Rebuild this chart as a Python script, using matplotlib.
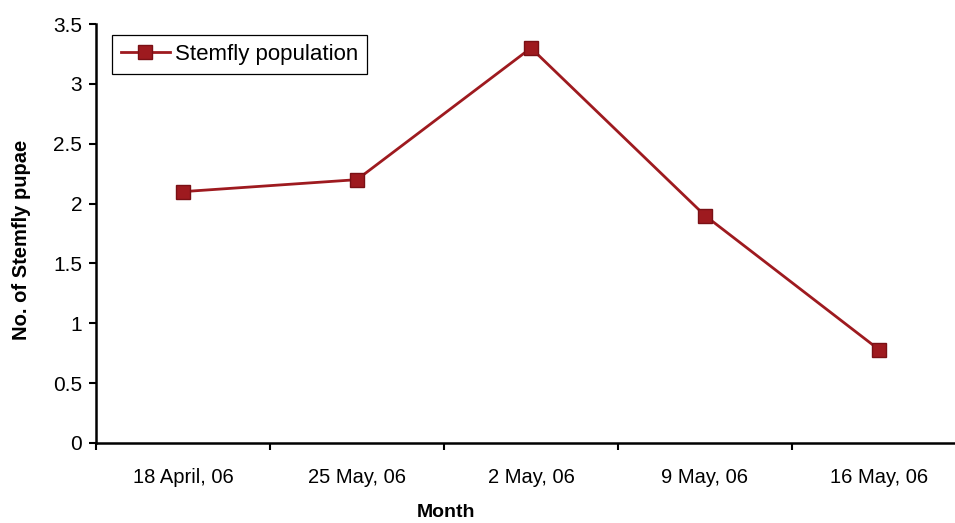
import matplotlib
matplotlib.use("Agg")
import matplotlib.pyplot as plt
from matplotlib.ticker import FixedLocator, FuncFormatter

plt.rcParams['font.family'] = ['Liberation Sans', 'DejaVu Sans']

# Sampling dates and stemfly pupae counts
dates = ['18 April, 06', '25 May, 06', '2 May, 06', '9 May, 06', '16 May, 06']
pupae = [2.1, 2.2, 3.3, 1.9, 0.78]

line_color = '#9e1a1f'

fig = plt.figure(figsize=(9.55, 5.23), dpi=100)
ax = fig.add_axes([0.1005, 0.153, 0.8995, 0.801])

x = list(range(len(dates)))
ax.plot(x, pupae, color=line_color, linewidth=2.0, marker='s', markersize=9.5,
        markerfacecolor=line_color, markeredgecolor='#7a1015',
        label='Stemfly population')

# category axis, ticks sit between categories
ax.set_xlim(-0.5, 4.437)
ax.set_ylim(0, 3.5)
ax.set_xticks(x)
ax.set_xticklabels(dates, fontsize=14.5)
ax.xaxis.set_minor_locator(FixedLocator([i - 0.5 for i in range(len(dates) + 1)]))
ax.tick_params(axis='x', which='major', length=0, pad=18)
ax.tick_params(axis='x', which='minor', length=5, width=1.5, direction='out')

ax.set_yticks([0, 0.5, 1, 1.5, 2, 2.5, 3, 3.5])
ax.yaxis.set_major_formatter(FuncFormatter(lambda v, p: '%g' % v))
ax.tick_params(axis='y', length=5, width=1.5, direction='out', labelsize=15, pad=5)

for side in ['top', 'right']:
    ax.spines[side].set_visible(False)
for side in ['left', 'bottom']:
    ax.spines[side].set_linewidth(1.8)
    ax.spines[side].set_color('black')

ax.set_xlabel('Month', fontsize=14, fontweight='bold', va='center')
ax.xaxis.set_label_coords(0.4075, -0.167)
ax.set_ylabel('No. of Stemfly pupae', fontsize=14.5, fontweight='bold', va='center')
ax.yaxis.set_label_coords(-0.087, 0.485)

leg = ax.legend(loc='upper left', bbox_to_anchor=(0.0186, 0.974), borderaxespad=0,
                fontsize=16, frameon=True, fancybox=False, edgecolor='black',
                framealpha=1, handlelength=2.2, borderpad=0.4, handletextpad=0.25)
leg.get_frame().set_linewidth(0.9)

fig.savefig('out.png', dpi=100, facecolor='white')
